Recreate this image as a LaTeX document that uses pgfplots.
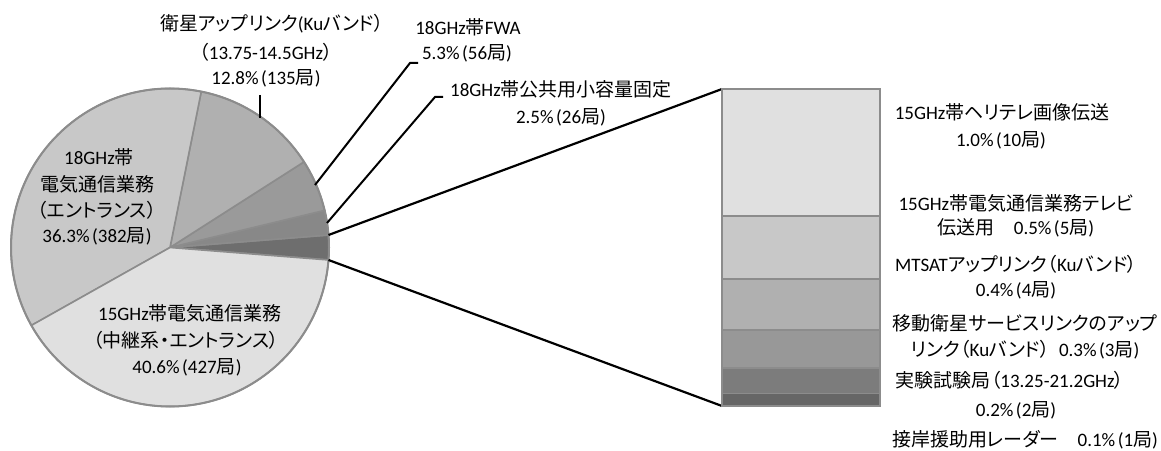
\documentclass[border=0pt]{standalone}
\usepackage{fontspec}
\usepackage{pgfplots}
\pgfplotsset{compat=1.18}
\setmainfont{Carlito}
\newfontfamily\cjk[RawFeature=+palt]{Noto Sans CJK JP}
\newcommand\J[1]{{\cjk #1}}
\newcommand\pc{\%\kern2.5pt}
\definecolor{outl}{HTML}{8C8C8C}
\definecolor{c15}{HTML}{E0E0E0}
\definecolor{cEnt}{HTML}{C8C8C8}
\definecolor{cSat}{HTML}{B0B0B0}
\definecolor{cFWA}{HTML}{9A9A9A}
\definecolor{cPub}{HTML}{888888}
\definecolor{cOth}{HTML}{6E6E6E}
\definecolor{b1}{HTML}{E0E0E0}
\definecolor{b2}{HTML}{C8C8C8}
\definecolor{b3}{HTML}{B0B0B0}
\definecolor{b4}{HTML}{989898}
\definecolor{b5}{HTML}{7C7C7C}
\definecolor{b6}{HTML}{666666}
\begin{document}
\fontsize{19}{23}\selectfont
\begin{tikzpicture}
\begin{axis}[at={(0pt,0pt)}, anchor=south west, scale only axis,
  width=1161pt, height=450pt, xmin=0, xmax=1161, ymin=0, ymax=450,
  hide axis, clip=false]
% pie: shares in percent, counter-clockwise from the secondary slice
\gdef\curang{-4.5}
\foreach \v/\c in {2.5/cOth, 2.5/cPub, 5.3/cFWA, 12.8/cSat, 36.3/cEnt, 40.6/c15} {
  \pgfmathsetmacro\e{\curang+3.6*\v}
  \edef\temp{\noexpand\filldraw[fill=\c, draw=outl, line width=1.6pt, line join=round]
    (axis cs:170,202.5) -- ++(\curang:159pt) arc[start angle=\curang, end angle=\e, radius=159pt] -- cycle;}
  \temp
  \xdef\curang{\e}
}
\draw[outl, line width=2pt] (axis cs:170,202.5) circle[radius=159pt];
% connectors
\draw[black, line width=2.2pt] (axis cs:328.5,215) -- (axis cs:722,361);
\draw[black, line width=2.2pt] (axis cs:328.5,190) -- (axis cs:722,44);
% leaders
\draw[black, line width=2pt] (axis cs:260,355) -- (axis cs:260,332);
\draw[black, line width=2pt] (axis cs:418,387) -- (axis cs:410,387) -- (axis cs:315,265);
\draw[black, line width=2pt] (axis cs:443,353) -- (axis cs:435,353) -- (axis cs:327,227);
% labels
\tikzset{lab/.style={inner sep=0pt, anchor=center}}
\node[lab] at (axis cs:272,426) {\J{衛星アップリンク}(Ku\J{バンド）}};
\node[lab] at (axis cs:266,398) {\J{（}13.75-14.5GHz\J{）}};
\node[lab] at (axis cs:266,372) {12.8\pc(135\J{局})};
\node[lab] at (axis cs:468,423) {18GHz\J{帯}FWA};
\node[lab] at (axis cs:467,397) {5.3\pc(56\J{局})};
\node[lab] at (axis cs:561,361) {18GHz\J{帯公共用小容量固定}};
\node[lab] at (axis cs:561,333) {2.5\pc(26\J{局})};
\node[lab] at (axis cs:99,293) {18GHz\J{帯}};
\node[lab] at (axis cs:97,266) {\J{電気通信業務}};
\node[lab] at (axis cs:97,240) {\J{（エントランス）}};
\node[lab] at (axis cs:97,214) {36.3\pc(382\J{局})};
\node[lab] at (axis cs:190,137) {15GHz\J{帯電気通信業務}};
\node[lab] at (axis cs:186,110) {\J{（中継系・エントランス）}};
\node[lab] at (axis cs:187,83) {40.6\pc(427\J{局})};
\node[lab] at (axis cs:1002,338) {15GHz\J{帯ヘリテレ画像伝送}};
\node[lab] at (axis cs:1001,310) {1.0\pc(10\J{局})};
\node[lab] at (axis cs:1016,247) {15GHz\J{帯電気通信業務テレビ}};
\node[lab] at (axis cs:1016,222) {\J{伝送用}\quad 0.5\pc(5\J{局})};
\node[lab] at (axis cs:1016,186) {MTSAT\J{アップリンク（}Ku\J{バンド）}};
\node[lab] at (axis cs:1016,160) {0.4\pc(4\J{局})};
\node[lab] at (axis cs:1025,127) {\J{移動衛星サービスリンクのアップ}};
\node[lab] at (axis cs:1025,100) {\J{リンク（}Ku\J{バンド）}\enspace 0.3\pc(3\J{局})};
\node[lab] at (axis cs:1010,70) {\J{実験試験局（}13.25-21.2GHz\J{）}};
\node[lab] at (axis cs:1016,40) {0.2\pc(2\J{局})};
\node[lab] at (axis cs:1025,10) {\J{接岸援助用レーダー}\quad 0.1\pc(1\J{局})};
\end{axis}
\begin{axis}[at={(722pt,44pt)}, anchor=south west, scale only axis,
  width=158pt, height=317pt, xmin=-0.5, xmax=0.5, ymin=0, ymax=2.5,
  hide axis, ybar stacked, bar width=158pt, clip=false]
\addplot[fill=b6, draw=outl, line width=1.6pt] coordinates {(0,0.1)};
\addplot[fill=b5, draw=outl, line width=1.6pt] coordinates {(0,0.2)};
\addplot[fill=b4, draw=outl, line width=1.6pt] coordinates {(0,0.3)};
\addplot[fill=b3, draw=outl, line width=1.6pt] coordinates {(0,0.4)};
\addplot[fill=b2, draw=outl, line width=1.6pt] coordinates {(0,0.5)};
\addplot[fill=b1, draw=outl, line width=1.6pt] coordinates {(0,1.0)};
\end{axis}
\pgfresetboundingbox
\path[use as bounding box] (0pt,0pt) rectangle (1161pt,450pt);
\end{tikzpicture}
\end{document}
